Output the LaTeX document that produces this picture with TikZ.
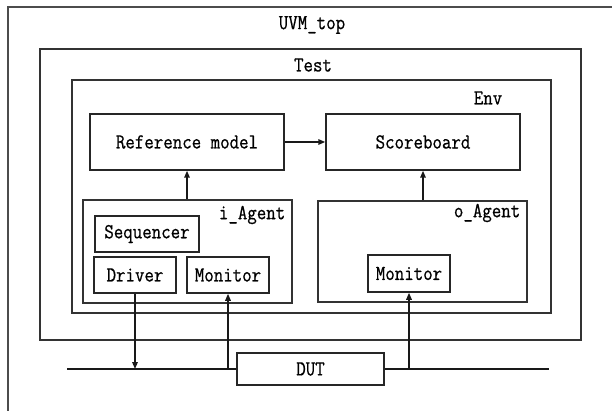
\documentclass[tikz,border=0pt]{standalone}
\usepackage{fontspec}
\setmonofont{Latin Modern Mono}[FakeStretch=0.86,FakeBold=0.7]
\usetikzlibrary{arrows.meta}
\begin{document}
\begin{tikzpicture}[x=1pt,y=-1pt,
  font=\ttfamily\fontsize{21.4}{23}\selectfont,
  line width=1.5pt,
  box/.style={draw=black!85, rectangle, inner sep=0pt},
  frame/.style={draw=black!80, rectangle, inner sep=0pt},
  lbl/.style={inner sep=0pt},
  sig/.style={draw=black!90, -{Triangle[length=7pt,width=5.5pt]}}]
\path[use as bounding box] (0,0) rectangle (612,411);
\clip (0,0) rectangle (612,411);
% outermost UVM_top frame (runs off the page on the right and bottom)
\draw[black!70, line width=1.6pt] (8,430) -- (8,7) -- (630,7);
\node[lbl] (uvmlbl) at (312,25) {UVM\_top};
% Test and Env frames
\node[frame, minimum width=541pt, minimum height=291pt] (test) at (310.5,194.5) {};
\node[lbl] (testlbl) at (313,65) {Test};
\node[frame, minimum width=479pt, minimum height=233pt] (env) at (311.5,196.5) {};
\node[lbl, anchor=east] (envlbl) at (503,98) {Env};
% reference model and scoreboard
\node[box, minimum width=194pt, minimum height=56pt] (ref) at (187,142) {Reference model};
\node[box, minimum width=194pt, minimum height=56pt] (score) at (423,142) {Scoreboard};
% input agent
\node[frame, minimum width=209pt, minimum height=103pt] (iag) at (187.5,251.5) {};
\node[lbl, anchor=east] (iaglbl) at (286,215) {i\_Agent};
\node[box, minimum width=104pt, minimum height=36pt] (seq) at (147,234) {Sequencer};
\node[box, minimum width=82pt, minimum height=36pt] (drv) at (135,275) {Driver};
\node[box, minimum width=82pt, minimum height=36pt] (imon) at (228,275) {Monitor};
% output agent
\node[frame, minimum width=209pt, minimum height=101pt] (oag) at (422.5,251.5) {};
\node[lbl, anchor=east] (oaglbl) at (521,213) {o\_Agent};
\node[box, minimum width=82pt, minimum height=37pt] (omon) at (409,273.5) {Monitor};
% design under test on the bus
\node[box, minimum width=147pt, minimum height=32pt] (dut) at (310.5,369) {DUT};
\coordinate (busL) at (67,369);
\coordinate (busR) at (549,369);
\coordinate (drvtap) at (drv.south |- dut.west);
\coordinate (imontap) at (imon.south |- dut.west);
\coordinate (omontap) at (omon.south |- dut.east);
\coordinate (iagtop) at (ref.south |- iag.north);
\coordinate (oagtop) at (score.south |- oag.north);
\draw[black!90] (busL) -- (dut.west);
\draw[black!90] (dut.east) -- (busR);
% connections
\draw[sig] (ref.east) -- (score.west);
\draw[sig] (iagtop) -- (ref.south);
\draw[sig] (oagtop) -- (score.south);
\draw[sig] (drv.south) -- (drvtap);
\draw[sig] (imontap) -- (imon.south);
\draw[sig] (omontap) -- (omon.south);
\end{tikzpicture}
\end{document}
